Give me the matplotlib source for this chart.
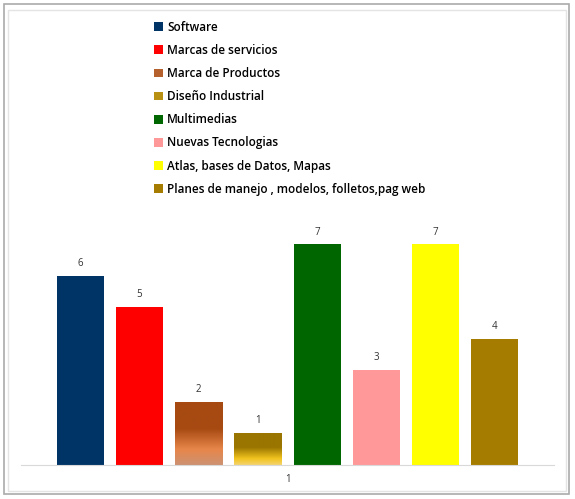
import numpy as np
import matplotlib as mpl
mpl.use("Agg")
import matplotlib.pyplot as plt
from matplotlib.patches import Rectangle, Patch
from matplotlib.colors import LinearSegmentedColormap

categories = ["Software", "Marcas de servicios", "Marca de Productos", "Diseño Industrial",
              "Multimedias", "Nuevas Tecnologias", "Atlas, bases de Datos, Mapas",
              "Planes de manejo , modelos, folletos,pag web"]
values = [6, 5, 2, 1, 7, 3, 7, 4]
colors = ["#003366", "#FF0000", "#A24A14", "#9C7800", "#006600", "#FF9999", "#FFFF00", "#A67C00"]
# gradient bars (top -> bottom)
gradients = {
    2: [(0.0, "#A64A12"), (0.42, "#A64A12"), (0.75, "#E8864A"), (1.0, "#CC9272")],
    3: [(0.0, "#9A7600"), (0.45, "#9A7600"), (0.80, "#F2C41E"), (1.0, "#F4D470")],
}
xlabel = "1"

plt.rcParams["font.family"] = ["Open Sans", "DejaVu Sans"]

fig = plt.figure(figsize=(5.75, 4.99), dpi=100)
ax = fig.add_axes([21 / 575, 34.3 / 499, 533 / 575, 251.7 / 499])

x = np.arange(len(values))
bars = ax.bar(x, values, width=0.795, color=colors, zorder=2)

for i, stops in gradients.items():
    b = bars[i]
    b.set_facecolor("none")
    b.set_edgecolor("none")
    cmap = LinearSegmentedColormap.from_list("g%d" % i, stops)
    grad = np.linspace(0, 1, 256).reshape(-1, 1)
    im = ax.imshow(grad, cmap=cmap, aspect="auto", origin="upper",
                   extent=[b.get_x(), b.get_x() + b.get_width(), 0, b.get_height()],
                   zorder=1)
    im.set_clip_path(b)

for b, v in zip(bars, values):
    ax.text(b.get_x() + b.get_width() / 2, v + 0.22, str(v), ha="center", va="bottom",
            fontsize=7, color="#333333")

ax.set_xlim(-1.0, 8.0)
ax.set_ylim(0, 8)
ax.set_xticks([3.5])
ax.set_xticklabels([xlabel], fontsize=7, color="#333333")
ax.tick_params(axis="x", length=0, pad=7)
ax.set_yticks([])
for s in ["top", "left", "right"]:
    ax.spines[s].set_visible(False)
ax.spines["bottom"].set_color("#D9D9D9")
ax.patch.set_alpha(0)

handles = [Patch(facecolor=c, edgecolor="none") for c in colors]
handles[2] = Patch(facecolor="#B5612E", edgecolor="none")
handles[3] = Patch(facecolor="#B89012", edgecolor="none")
fig.legend(handles, categories, loc="upper left", bbox_to_anchor=(149 / 575, 1 - 16 / 499),
           frameon=False, handlelength=0.75, handleheight=0.75,
           handletextpad=0.4, labelspacing=0.86, borderaxespad=0,
           prop={"weight": "semibold", "size": 8.5})

fig.patches.append(Rectangle((4 / 575, 5 / 499), 565 / 575, 490 / 499, transform=fig.transFigure,
                             fill=False, edgecolor="#AAAAAA", linewidth=1.2))
fig.patches.append(Rectangle((8 / 575, 8 / 499), 558 / 575, 481 / 499, transform=fig.transFigure,
                             fill=False, edgecolor="#E4E4E4", linewidth=1.0))

fig.savefig("out.png", dpi=100)
